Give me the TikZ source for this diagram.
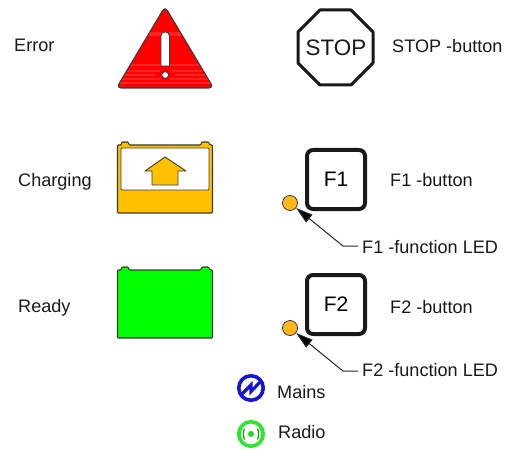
\documentclass[tikz,border=0pt]{standalone}
\usepackage{fontspec}
\setmainfont{Liberation Sans}
\usetikzlibrary{arrows.meta}
\definecolor{amberc}{HTML}{FFC000}
\definecolor{ledc}{HTML}{FFB81C}
\definecolor{outl}{HTML}{3A3A3A}
\definecolor{greenc}{HTML}{00FF00}
\definecolor{bluec}{HTML}{1414D8}
\definecolor{radioc}{HTML}{2EE62E}
\definecolor{radiod}{HTML}{14A014}
\definecolor{redl}{HTML}{FF2424}
\tikzset{
  x=1pt,y=-1pt,
  lbl/.style={anchor=west,inner sep=0pt,font=\fontsize{18.1}{20}\selectfont,text=black!90},
  keybox/.style={draw=black!90,line width=4pt,rounded corners=6pt,minimum width=58pt,minimum height=59pt,inner sep=0pt,font=\fontsize{21}{24}\selectfont,fill=white},
  led/.style={circle,draw=outl,line width=0.8pt,fill=ledc,minimum size=15pt,inner sep=0pt},
  pointer/.style={draw=black!85,line width=1pt,-{Triangle[length=17pt,width=10pt,fill=black]}},
  batt/.style={draw=outl,line width=1.1pt,line join=round},
  icon/.style={circle,line width=3.6pt,minimum size=24.5pt,inner sep=0pt,fill=white},
}
\newcommand{\battbody}[2]{% top y, fill
  \path[batt,fill=#2,rounded corners=0.8pt] (117.5,#1+30) -- (117.5,#1+3) -- (121,#1+3) -- (122,#1) -- (128,#1) -- (129.5,#1+3) -- (200.5,#1+3) -- (202,#1) -- (208.5,#1) -- (210,#1+3) -- (212.5,#1+3) -- (212.5,#1+71) -- (117.5,#1+71) -- cycle;}
\begin{document}
\begin{tikzpicture}
\useasboundingbox (0,0) rectangle (505,449);
% error triangle
\path[fill=red,line join=round,rounded corners=4.5pt] (165,6.5) -- (213.5,88) -- (116.5,88) -- cycle;
\begin{scope}
\clip (165,6.5) -- (213.5,88) -- (116.5,88) -- cycle;
\fill[redl] (130,32) rectangle (200,36);
\fill[redl] (130,64) rectangle (200,66);
\fill[redl] (125,70) rectangle (160,72) (172,70) rectangle (205,72);
\fill[redl] (125,74) rectangle (155,76) (175,74) rectangle (208,76);
\fill[redl] (122,78) rectangle (160,80) (170,78) rectangle (210,80);
\fill[redl] (120,82) rectangle (212,84);
\end{scope}
\path[draw=outl,line width=1.1pt,line join=round,rounded corners=4.5pt] (165,6.5) -- (213.5,88) -- (116.5,88) -- cycle;
\path[draw=outl,line width=0.9pt,fill=white] (161,66) -- (161,36) .. controls (161,30.5) and (169.5,30.5) .. (169.5,36) -- (169.5,66) -- cycle;
\path[draw=outl,line width=0.9pt,fill=white] (165.2,75) circle (3.4);
\node[lbl] (err) at (14,45) {Error};
% charging battery
\battbody{142}{amberc}
\path[draw=outl,line width=0.9pt,fill=white,rounded corners=1pt] (121,148) rectangle (209,190);
\path[draw=outl,line width=0.9pt,fill=amberc,line join=round] (165,157) -- (186,171) -- (178,171) -- (178,185) -- (152,185) -- (152,171) -- (145,171) -- cycle;
\node[lbl] (chg) at (18,182) {Charging};
% ready battery
\battbody{267}{greenc}
\node[lbl] (rdy) at (18,308) {Ready};
% stop
\path[draw=black!90,line width=3pt,line join=round,fill=white] (320,10) -- (351,10) -- (373,32) -- (373,63) -- (351,85) -- (320,85) -- (298,63) -- (298,32) -- cycle;
\node[inner sep=0pt,font=\fontsize{22.4}{24}\selectfont,text=black!90] (stoptxt) at (336,48) {STOP};
\node[lbl] (stopl) at (392,46) {STOP -button};
% F1
\node[keybox] (f1) at (336,179.5) {F1};
\node[lbl] (f1l) at (390,180) {F1 -button};
\node[led] (led1) at (290,203) {};
\node[lbl] (f1f) at (362,247) {F1 -function LED};
\coordinate (e1) at (343,246);
\draw[pointer] (f1f.west) ++(-4,-1) -- (e1) -- (led1);
% F2
\node[keybox] (f2) at (336,304.5) {F2};
\node[lbl] (f2l) at (390,307) {F2 -button};
\node[led] (led2) at (290,328) {};
\node[lbl] (f2f) at (362,370) {F2 -function LED};
\coordinate (e2) at (343,371);
\draw[pointer] (f2f.west) ++(-4,1) -- (e2) -- (led2);
% mains
\node[icon,draw=bluec] (mi) at (251,388) {};
\draw[bluec,line width=3.2pt,line join=miter] (241,395) -- (251,385) -- (251,391.5) -- (261,381);
\node[lbl] (ml) at (277,392) {Mains};
% radio
\node[icon,draw=radioc] (ri) at (251,434) {};
\fill[radioc!70!radiod] (ri) circle (3);
\draw[radiod,line width=1.3pt] (244.5,428.5) .. controls (243,432) and (243,436) .. (244.5,439.5);
\draw[radiod,line width=1.3pt] (257.5,428.5) .. controls (259,432) and (259,436) .. (257.5,439.5);
\draw[radioc,line width=1.3pt] (241.8,427.5) .. controls (240,431.5) and (240,436.5) .. (241.8,440.5);
\draw[radioc,line width=1.3pt] (260.2,427.5) .. controls (262,431.5) and (262,436.5) .. (260.2,440.5);
\node[lbl] (rl) at (278,432) {Radio};
\end{tikzpicture}
\end{document}
